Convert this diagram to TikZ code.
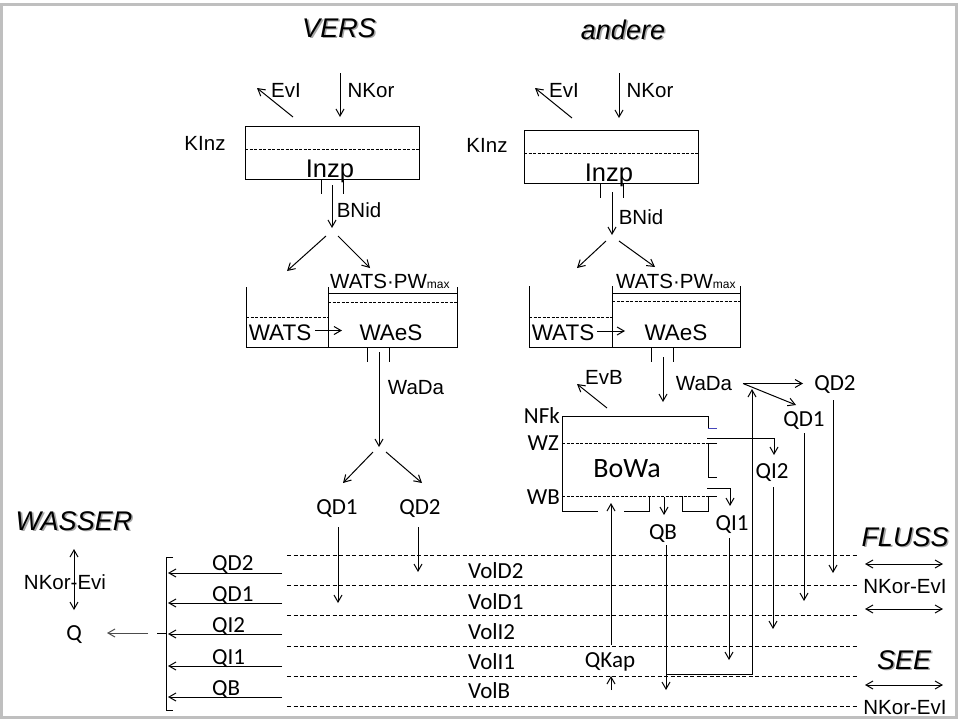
\documentclass[tikz,border=0pt]{standalone}
\usepackage{fontspec}
\setmainfont{Liberation Sans}
\newfontfamily\calf{Carlito}
\usetikzlibrary{arrows.meta}
\newcommand\myshd[1]{\makebox[0pt][l]{\hspace{1.6pt}\raisebox{-1.6pt}{\color{black!35}#1}}#1}
\begin{document}
\begin{tikzpicture}[x=1pt,y=-1pt,
 ln/.style={line width=1pt},
 arr/.style={line width=1pt,-{Straight Barb[length=7pt,width=8pt]}},
 darr/.style={line width=1pt,{Straight Barb[length=7pt,width=8pt]}-{Straight Barb[length=7pt,width=8pt]}},
 dsh/.style={line width=0.9pt,dash pattern=on 4pt off 2.5pt},
 dshin/.style={line width=0.8pt,dash pattern=on 3pt off 1.5pt},
 lbl/.style={inner sep=0pt,font=\fontsize{20.5}{24}\selectfont,text height=14.7pt,text depth=0pt},
 big/.style={inner sep=0pt,font=\fontsize{25.5}{30}\selectfont,text height=18.3pt,text depth=0pt},
 wl/.style={inner sep=0pt,font=\fontsize{22.5}{26}\selectfont,text height=16.1pt,text depth=0pt},
 cal/.style={inner sep=0pt,font=\calf\fontsize{23}{27}\selectfont,text height=14.8pt,text depth=0pt},
 bowa/.style={inner sep=0pt,font=\calf\fontsize{28}{32}\selectfont,text height=18pt,text depth=0pt},
 ttl/.style={inner sep=0pt,font=\itshape\fontsize{27}{31}\selectfont,text height=19.3pt,text depth=0pt},
]
\fill[white] (0,0) rectangle (960,720);
\useasboundingbox (0,0) rectangle (960,720);
\draw[black!25,line width=3pt] (1.5,4) rectangle (956,717);

% ---------- titles ----------
\node[ttl] (tVERS) at (339,27.5) {\myshd{VERS}};
\node[ttl] (tAND) at (623,29.5) {\myshd{andere}};
\node[ttl] (tWAS) at (74,520.5) {\myshd{WASSER}};
\node[ttl] (tFL) at (905,536.5) {\myshd{FLUSS}};
\node[ttl] (tSEE) at (904,659.5) {\myshd{SEE}};

% ---------- left column (VERS) ----------
\node[lbl] (evl1) at (286,90) {EvI};
\node[lbl] (nk1) at (371,90) {NKor};
\node[lbl] (ki1) at (205,143) {KInz};
\node[big] (in1) at (330,168) {Inzp};
\node[lbl] (bn1) at (359,210) {BNid};
\node[lbl,anchor=west] (pw1) at (330,281) {WATS·PW{\fontsize{12}{12}\selectfont max}};
\node[wl] (wa1) at (280,332) {WATS};
\node[wl] (we1) at (391,332) {WAeS};
\node[lbl] (wd1) at (416,387) {WaDa};
\node[cal] (qda1) at (337,507) {QD1};
\node[cal] (qdb1) at (420,507) {QD2};

\coordinate (e1a) at (293,117); \coordinate (e1b) at (257,88);
\draw[arr] (e1a) -- (e1b);
\coordinate (n1a) at (340,73); \coordinate (n1b) at (340,117);
\draw[arr] (n1a) -- (n1b);
\draw[ln] (245,126) rectangle (419,179);
\draw[dshin] (245,149) -- (419,149);
\draw[ln] (321,179) -- (321,194);
\draw[ln] (343,179) -- (343,194);
\coordinate (b1a) at (332,185); \coordinate (b1b) at (332,228);
\draw[arr] (b1a) -- (b1b);
\coordinate (s1a) at (326,236); \coordinate (s1b) at (287,271);
\coordinate (s1c) at (338,236); \coordinate (s1d) at (370,268);
\draw[arr] (s1a) -- (s1b);
\draw[arr] (s1c) -- (s1d);
% WATS / WAeS
\draw[ln] (246,287) -- (246,347) -- (457,347) -- (457,287);
\draw[ln] (328,287) -- (328,347);
\draw[ln] (328,293) -- (457,293);
\draw[dshin] (328,302) -- (457,302);
\draw[dshin] (246,317) -- (328,317);
\coordinate (w1a) at (315,330.5); \coordinate (w1b) at (342,330.5);
\draw[arr] (w1a) -- (w1b);
\draw[ln] (367,347) -- (367,362);
\draw[ln] (389,347) -- (389,362);
\coordinate (d1a) at (379,352); \coordinate (d1b) at (379,447);
\draw[arr] (d1a) -- (d1b);
\coordinate (p1a) at (373,452); \coordinate (p1b) at (343,483);
\coordinate (p1c) at (386,452); \coordinate (p1d) at (422,483);
\draw[arr] (p1a) -- (p1b);
\draw[arr] (p1c) -- (p1d);
\coordinate (q11) at (338,603); \coordinate (q21) at (418,572);
\draw[arr] (338,527) -- (q11);
\draw[arr] (418,527) -- (q21);

% ---------- right column (andere) ----------
\node[lbl] (evl2) at (564,90) {EvI};
\node[lbl] (nk2) at (650,90) {NKor};
\node[lbl] (ki2) at (487,145) {KInz};
\node[big] (in2) at (609,172) {Inzp};
\node[lbl] (bn2) at (641,217) {BNid};
\node[lbl,anchor=west] (pw2) at (616,281) {WATS·PW{\fontsize{12}{12}\selectfont max}};
\node[wl] (wa2) at (563,332) {WATS};
\node[wl] (we2) at (676,332) {WAeS};
\node[lbl] (evb) at (604,377) {EvB};
\node[lbl] (wd2) at (704,383) {WaDa};
\node[cal] (qdb2) at (835,383) {QD2};
\node[cal] (qda2) at (804,419) {QD1};
\node[cal,anchor=east] (nfk) at (560,416) {NFk};
\node[cal,anchor=east] (wz) at (559,443) {WZ};
\node[cal,anchor=east] (wb) at (560,497) {WB};
\node[bowa] (bw) at (627,468) {BoWa};
\node[cal] (qi2) at (772,471) {QI2};
\node[cal] (qi1) at (732,523) {QI1};
\node[cal] (qb) at (663,532) {QB};
\node[cal] (qkap) at (610,660) {QKap};

\coordinate (e2a) at (572,118); \coordinate (e2b) at (535,88);
\draw[arr] (e2a) -- (e2b);
\coordinate (n2a) at (619,73); \coordinate (n2b) at (619,118);
\draw[arr] (n2a) -- (n2b);
\draw[ln] (524,130) rectangle (698,183);
\draw[dshin] (524,153) -- (698,153);
\draw[ln] (600,183) -- (600,198);
\draw[ln] (623,183) -- (623,198);
\coordinate (b2a) at (612,192); \coordinate (b2b) at (612,235);
\draw[arr] (b2a) -- (b2b);
\coordinate (s2a) at (606,241); \coordinate (s2b) at (577,268);
\coordinate (s2c) at (619,241); \coordinate (s2d) at (655,267);
\draw[arr] (s2a) -- (s2b);
\draw[arr] (s2c) -- (s2d);
\draw[ln] (529,286) -- (529,347) -- (740,347) -- (740,286);
\draw[ln] (612,286) -- (612,347);
\draw[ln] (612,293) -- (740,293);
\draw[dshin] (612,301) -- (740,301);
\draw[dshin] (529,317) -- (612,317);
\coordinate (w2a) at (597,331); \coordinate (w2b) at (625,331);
\draw[arr] (w2a) -- (w2b);
\draw[ln] (651,347) -- (651,362);
\draw[ln] (673,347) -- (673,362);
\coordinate (d2a) at (663,357); \coordinate (d2b) at (663,402);
\draw[arr] (d2a) -- (d2b);
\coordinate (eba) at (607,408); \coordinate (ebb) at (577,384);
\draw[arr] (eba) -- (ebb);
\coordinate (wq0) at (743,383.5);
\coordinate (wq2) at (803,383.5); \coordinate (wq1) at (796,405);
\draw[arr] (wq0) -- (wq2);
\draw[arr] (wq0) -- (wq1);
\coordinate (qd2e) at (833,573); \coordinate (qd1e) at (804,601);
\draw[arr] (833,400) -- (qd2e);
\draw[arr] (804,433) -- (qd1e);

% BoWa box
\draw[ln] (708,428) -- (708,416) -- (562,416) -- (562,511) -- (598,511);
\draw[line width=1pt,blue!45!gray] (708,428) -- (717,428);
\draw[dshin] (562,443) -- (708,443);
\draw[ln] (717,443) -- (708,443) -- (708,477) -- (717,477);
\coordinate (qi2s) at (707,438); \coordinate (qi2e) at (774,455);
\draw[arr] (qi2s) -| (qi2e);
\coordinate (qi1s) at (707,488); \coordinate (qi1e) at (730,506);
\draw[arr] (qi1s) -| (qi1e);
\draw[dshin] (562,496) -- (708,496);
\draw[ln] (624,511) -- (649,511) -- (649,496);
\draw[ln] (682,496) -- (682,511) -- (708,511) -- (708,496) -- (717,496);
\coordinate (qbs) at (664,497); \coordinate (qbe) at (664,515);
\draw[arr] (qbs) -- (qbe);
\coordinate (qbl) at (666,690);
\draw[arr] (666,545) -- (qbl);
\coordinate (rc0) at (666,674); \coordinate (rc1) at (752,389);
\draw[arr] (rc0) -| (rc1);
\coordinate (qks) at (611,645); \coordinate (qke) at (611,503);
\draw[arr] (qks) -- (qke);
\coordinate (qk2s) at (611,690); \coordinate (qk2e) at (611,676);
\draw[arr] (qk2s) -- (qk2e);
\coordinate (qi2l) at (773,629); \coordinate (qi1l) at (729,660);
\draw[arr] (773,487) -- (qi2l);
\draw[arr] (729,538) -- (qi1l);

% ---------- volume layers ----------
\foreach \yy in {555,585,615,646,676,706}
  \draw[dsh] (287,\yy) -- (858,\yy);
\node[cal,anchor=west] (vd2) at (468,571) {VolD2};
\node[cal,anchor=west] (vd1) at (468,602) {VolD1};
\node[cal,anchor=west] (vi2) at (468,632) {VolI2};
\node[cal,anchor=west] (vi1) at (468,662) {VolI1};
\node[cal,anchor=west] (vb) at (468,691) {VolB};

% ---------- WASSER side ----------
\node[lbl] (nke) at (65,582) {NKor-Evi};
\node[cal] (qq) at (74,633) {Q};
\coordinate (va) at (74,549); \coordinate (vb2) at (74,610);
\draw[darr] (va) -- (vb2);
\draw[ln] (173,557) -- (166,557) -- (166,710) -- (173,710);
\draw[ln] (157,633) -- (166,633);
\coordinate (qa) at (148,633); \coordinate (qb2) at (107,633);
\draw[arr,black!70] (qa) -- (qb2);
\node[cal,anchor=west] (lqd2) at (212,563) {QD2};
\node[cal,anchor=west] (lqd1) at (212,594) {QD1};
\node[cal,anchor=west] (lqi2) at (212,625) {QI2};
\node[cal,anchor=west] (lqi1) at (212,657) {QI1};
\node[cal,anchor=west] (lqb) at (212,688) {QB};
\foreach \yy in {573,603,634,666,697}
  \draw[arr] (282,\yy) -- (168,\yy);

% ---------- FLUSS / SEE side ----------
\node[lbl] (nkf) at (905,586) {NKor-EvI};
\node[lbl] (nks) at (905,707) {NKor-EvI};
\coordinate (f1a) at (865,564); \coordinate (f1b) at (943,564);
\coordinate (f2a) at (865,609); \coordinate (f2b) at (943,609);
\coordinate (f3a) at (865,685); \coordinate (f3b) at (943,685);
\draw[darr] (f1a) -- (f1b);
\draw[darr] (f2a) -- (f2b);
\draw[darr] (f3a) -- (f3b);
\end{tikzpicture}
\end{document}
